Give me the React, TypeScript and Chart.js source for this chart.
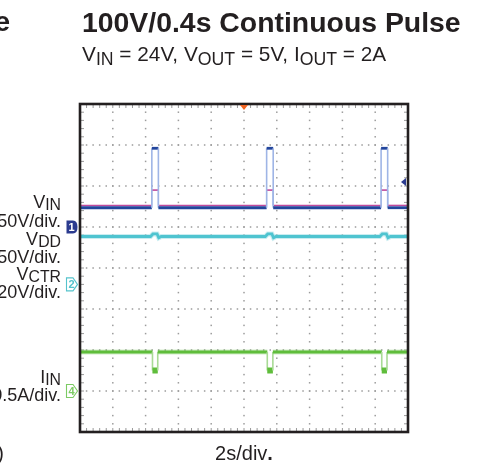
import React, { useEffect, useRef } from "react";
import { Chart, registerables } from "chart.js";

Chart.register(...registerables);

// ---- scope setup ----
const X_DIVS = 10;
const Y_DIVS = 8;
const SEC_PER_DIV = 2;

// channel scaling: units per division and ground level (in divisions from bottom)
const CH1_VIN = { perDiv: 50, zeroDiv: 5.0 };
const CH2_VDD = { perDiv: 50, zeroDiv: 3.6 };
const CH3_VCTR = { perDiv: 20, zeroDiv: 5.0 };
const CH4_IIN = { perDiv: 0.5, zeroDiv: 1.0 };
const TRIGGER_LEVEL_V = 55; // on CH1
const TRIGGER_TIME_S = 10;

// ---- trace data (time in s, values in V or A) ----
const vinTime = [0, 4.38, 4.38, 4.78, 4.78, 11.38, 11.38, 11.78, 11.78, 18.36, 18.36, 18.76, 18.76, 20];
const vinVolts = [23.5, 23.5, 96, 96, 23.5, 23.5, 96, 96, 23.5, 23.5, 96, 96, 23.5, 23.5];

const vctrTime = [0, 4.38, 4.38, 4.78, 4.78, 11.38, 11.38, 11.78, 11.78, 18.36, 18.36, 18.76, 18.76, 20];
const vctrVolts = [10.5, 10.5, 18, 18, 10.5, 10.5, 18, 18, 10.5, 10.5, 18, 18, 10.5, 10.5];

const vddTime = [0, 4.3, 4.45, 4.7, 4.8, 4.95, 11.3, 11.45, 11.7, 11.8, 11.95, 18.28, 18.43, 18.68, 18.78, 18.93, 20];
const vddVolts = [58.4, 58.4, 61.5, 61.5, 56.8, 58.4, 58.4, 61.5, 61.5, 56.8, 58.4, 58.4, 61.5, 61.5, 56.8, 58.4, 58.4];

const iinTime = [0, 4.42, 4.42, 4.74, 4.74, 11.42, 11.42, 11.76, 11.76, 18.4, 18.4, 18.72, 18.72, 20];
const iinAmps = [0.475, 0.475, 0.25, 0.25, 0.475, 0.475, 0.25, 0.25, 0.475, 0.475, 0.25, 0.25, 0.475, 0.475];

// ---- colours ----
const VIN_COLOR = "#22459c";
const VIN_EDGE = "#9fb5e6";
const VCTR_COLOR = "#c04a9c";
const VDD_COLOR = "#4fc4d0";
const VDD_HALO = "rgba(79,196,208,0.3)";
const IIN_COLOR = "#5fbd3b";
const IIN_HALO = "rgba(95,189,59,0.28)";
const IIN_EDGE = "#a8da95";

type Ch = { perDiv: number; zeroDiv: number };
const toDiv = (ch: Ch, v: number) => ch.zeroDiv + v / ch.perDiv;
const series = (ch: Ch, t: number[], v: number[]) => t.map((tt, i) => ({ x: tt, y: toDiv(ch, v[i]) }));

const isVertical = (c: any) => c.p0.parsed.x === c.p1.parsed.x;

const scopePlugin = {
  id: "scope",
  beforeDatasetsDraw(chart: any) {
    const { ctx, chartArea: a, scales } = chart;
    const x = scales.x;
    const y = scales.y;
    ctx.save();
    ctx.fillStyle = "#9c9c9c";
    // dotted horizontal grid lines
    for (let d = 1; d < Y_DIVS; d++) {
      const py = y.getPixelForValue(d);
      for (let s = 0; s <= X_DIVS * 5; s++) {
        const px = x.getPixelForValue((s * SEC_PER_DIV) / 5);
        ctx.fillRect(px - 0.75, py - 0.75, 1.5, 1.5);
      }
    }
    // dotted vertical grid lines
    for (let d = 1; d < X_DIVS; d++) {
      const px = x.getPixelForValue(d * SEC_PER_DIV);
      for (let s = 0; s <= Y_DIVS * 5; s++) {
        const py = y.getPixelForValue(s / 5);
        ctx.fillRect(px - 0.75, py - 0.75, 1.5, 1.5);
      }
    }
    // minor ticks along the frame
    ctx.strokeStyle = "#9a9a9a";
    ctx.lineWidth = 1;
    ctx.beginPath();
    for (let s = 1; s < Y_DIVS * 5; s++) {
      const py = y.getPixelForValue(s / 5);
      ctx.moveTo(a.left, py);
      ctx.lineTo(a.left + 4, py);
      ctx.moveTo(a.right, py);
      ctx.lineTo(a.right - 4, py);
    }
    for (let s = 1; s < X_DIVS * 5; s++) {
      const px = x.getPixelForValue((s * SEC_PER_DIV) / 5);
      ctx.moveTo(px, a.bottom);
      ctx.lineTo(px, a.bottom - 4);
      ctx.moveTo(px, a.top);
      ctx.lineTo(px, a.top + 4);
    }
    ctx.stroke();
    ctx.restore();
  },
  afterDraw(chart: any) {
    const { ctx, chartArea: a, scales } = chart;
    const x = scales.x;
    const y = scales.y;
    ctx.save();
    // frame
    ctx.strokeStyle = "#231f20";
    ctx.lineWidth = 2.6;
    ctx.strokeRect(a.left, a.top, a.width, a.height);

    // channel ground markers
    const marker = (ch: Ch, label: string, color: string, filled: boolean) => {
      const yc = y.getPixelForValue(ch.zeroDiv);
      const x0 = a.left - 13.5;
      const x1 = a.left - 7;
      const x2 = a.left - 2.5;
      const h = 6.5;
      ctx.beginPath();
      ctx.moveTo(x0, yc - h);
      ctx.lineTo(x1, yc - h);
      if (filled) {
        ctx.quadraticCurveTo(x2, yc - h, x2, yc);
        ctx.quadraticCurveTo(x2, yc + h, x1, yc + h);
      } else {
        ctx.lineTo(x2, yc);
        ctx.lineTo(x1, yc + h);
      }
      ctx.lineTo(x0, yc + h);
      ctx.closePath();
      if (filled) {
        ctx.fillStyle = color;
        ctx.fill();
      } else {
        ctx.fillStyle = "#ffffff";
        ctx.fill();
        ctx.strokeStyle = color;
        ctx.lineWidth = 1.1;
        ctx.stroke();
      }
      ctx.fillStyle = filled ? "#ffffff" : color;
      ctx.font = "bold 11px 'Liberation Sans', Arial, sans-serif";
      ctx.textAlign = "center";
      ctx.textBaseline = "middle";
      ctx.fillText(label, (x0 + x2) / 2 - 0.5, yc + 0.5);
    };
    marker(CH1_VIN, "1", "#2b3b8f", true);
    marker(CH2_VDD, "2", "#55c3cc", false);
    marker(CH4_IIN, "4", "#7ccb64", false);

    // trigger level arrow (right edge)
    const ty = y.getPixelForValue(toDiv(CH1_VIN, TRIGGER_LEVEL_V));
    ctx.fillStyle = "#2b3b8f";
    ctx.beginPath();
    ctx.moveTo(a.right - 7, ty);
    ctx.lineTo(a.right - 2, ty - 4);
    ctx.lineTo(a.right - 2, ty + 4);
    ctx.closePath();
    ctx.fill();

    // trigger position (top)
    const tx = x.getPixelForValue(TRIGGER_TIME_S);
    ctx.fillStyle = "#f26522";
    ctx.beginPath();
    ctx.moveTo(tx - 4, a.top + 1);
    ctx.lineTo(tx + 4, a.top + 1);
    ctx.lineTo(tx, a.top + 6);
    ctx.closePath();
    ctx.fill();
    ctx.restore();
  },
};

const FONT = '"Liberation Sans", Arial, Helvetica, sans-serif';

function Txt(props: {
  x: number;
  base: number;
  size: number;
  align?: "left" | "right" | "center";
  bold?: boolean;
  children: React.ReactNode;
}) {
  const { x, base, size, align = "left", bold, children } = props;
  const style: React.CSSProperties = {
    position: "absolute",
    top: base - 0.8465 * size,
    fontSize: size,
    lineHeight: `${size}px`,
    fontWeight: bold ? "bold" : "normal",
    whiteSpace: "nowrap",
  };
  if (align === "right") {
    style.right = 479 - x;
    style.textAlign = "right";
  } else if (align === "center") {
    style.left = x - 150;
    style.width = 300;
    style.textAlign = "center";
  } else {
    style.left = x;
  }
  return <div style={style}>{children}</div>;
}

const Sub = ({ children, drop = 0.22, scale = 0.85 }: { children: React.ReactNode; drop?: number; scale?: number }) => (
  <span style={{ fontSize: `${scale}em`, position: "relative", top: `${drop}em` }}>{children}</span>
);

export default function App() {
  const ref = useRef<HTMLCanvasElement>(null);

  useEffect(() => {
    const canvas = ref.current;
    if (!canvas) return;
    const chart = new Chart(canvas, {
      type: "line",
      data: {
        datasets: [
          {
            label: "VIN",
            data: series(CH1_VIN, vinTime, vinVolts),
            borderColor: VIN_COLOR,
            borderWidth: 2.8,
            segment: {
              borderColor: (c: any) => (isVertical(c) ? VIN_EDGE : VIN_COLOR),
              borderWidth: (c: any) => (isVertical(c) ? 1.6 : 2.8),
            },
          },
          {
            label: "VCTR",
            data: series(CH3_VCTR, vctrTime, vctrVolts),
            borderColor: VCTR_COLOR,
            borderWidth: 1.6,
            segment: {
              borderColor: (c: any) => (isVertical(c) ? VIN_EDGE : VCTR_COLOR),
              borderWidth: (c: any) => (isVertical(c) ? 1 : 1.6),
            },
          },
          {
            label: "VDD",
            data: series(CH2_VDD, vddTime, vddVolts),
            borderColor: VDD_COLOR,
            borderWidth: 2.8,
          },
          {
            label: "VDD noise",
            data: series(CH2_VDD, vddTime, vddVolts),
            borderColor: VDD_HALO,
            borderWidth: 5,
          },
          {
            label: "IIN",
            data: series(CH4_IIN, iinTime, iinAmps),
            borderColor: IIN_COLOR,
            borderWidth: 3,
            segment: {
              borderColor: (c: any) => (isVertical(c) ? IIN_EDGE : IIN_COLOR),
              borderWidth: (c: any) =>
                isVertical(c) ? 1.6 : c.p0.parsed.y < toDiv(CH4_IIN, 0.4) ? 6 : 3,
            },
          },
          {
            label: "IIN noise",
            data: series(CH4_IIN, iinTime, iinAmps),
            borderColor: IIN_HALO,
            borderWidth: 5,
            segment: {
              borderColor: (c: any) => (isVertical(c) ? "rgba(0,0,0,0)" : IIN_HALO),
            },
          },
        ],
      },
      options: {
        responsive: false,
        animation: false,
        devicePixelRatio: 1,
        events: [],
        layout: { padding: { left: 80, right: 71, top: 104, bottom: 34 } },
        elements: {
          point: { radius: 0 },
          line: { tension: 0, borderCapStyle: "butt", borderJoinStyle: "miter" },
        },
        scales: {
          x: { type: "linear", min: 0, max: X_DIVS * SEC_PER_DIV, display: false },
          y: { type: "linear", min: 0, max: Y_DIVS, display: false },
        },
        plugins: {
          legend: { display: false },
          tooltip: { enabled: false },
          title: { display: false },
        },
      },
      plugins: [scopePlugin],
    } as any);
    return () => chart.destroy();
  }, []);

  return (
    <div
      style={{
        position: "absolute",
        left: 0,
        top: 0,
        width: 479,
        height: 466,
        overflow: "hidden",
        background: "#ffffff",
        fontFamily: FONT,
        color: "#231f20",
      }}
    >
      <canvas
        ref={ref}
        width={479}
        height={466}
        style={{ position: "absolute", left: 0, top: 0, width: 479, height: 466 }}
      />
      <Txt x={10} base={32} size={28} align="right" bold>
        e
      </Txt>
      <Txt x={82} base={32} size={28.4} bold>
        100V/0.4s Continuous Pulse
      </Txt>
      <Txt x={82} base={62} size={20.8}>
        V<Sub>IN</Sub> = 24V, V<Sub>OUT</Sub> = 5V, I<Sub>OUT</Sub> = 2A
      </Txt>

      <Txt x={61} base={208} size={18}>
        {null}
      </Txt>
      <Txt x={61} base={208} size={18} align="right">
        V<Sub drop={0.16} scale={0.88}>IN</Sub>
      </Txt>
      <Txt x={61} base={227} size={18} align="right">
        50V/div.
      </Txt>
      <Txt x={61} base={245} size={18} align="right">
        V<Sub drop={0.16} scale={0.88}>DD</Sub>
      </Txt>
      <Txt x={61} base={263} size={18} align="right">
        50V/div.
      </Txt>
      <Txt x={61} base={280} size={18} align="right">
        V<Sub drop={0.16} scale={0.88}>CTR</Sub>
      </Txt>
      <Txt x={61} base={298} size={18} align="right">
        20V/div.
      </Txt>
      <Txt x={61} base={383} size={18} align="right">
        I<Sub drop={0.16} scale={0.88}>IN</Sub>
      </Txt>
      <Txt x={61} base={401} size={18} align="right">
        0.5A/div.
      </Txt>

      <Txt x={244} base={460} size={20} align="center">
        2s/div<b>.</b>
      </Txt>
      <Txt x={4} base={460} size={20} align="right">
        )
      </Txt>
    </div>
  );
}
